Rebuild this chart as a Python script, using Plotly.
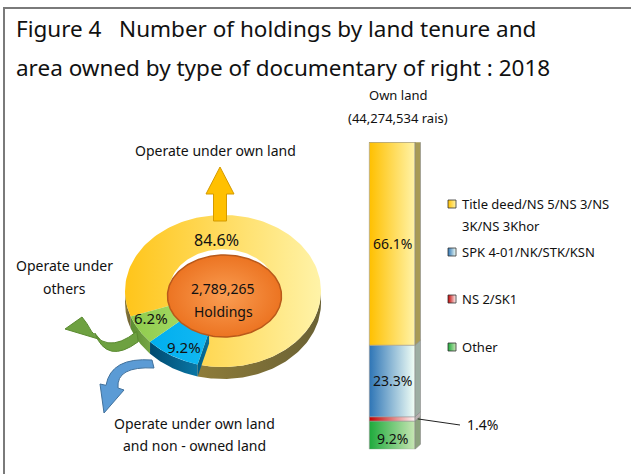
import numpy as np
import plotly.graph_objects as go

# ---------------- data ----------------
title_lines = ["Figure 4   Number of holdings by land tenure and",
               "area owned by type of documentary of right : 2018"]
tenure_labels = ["Operate under own land",
                 "Operate under own land<br>and non - owned land",
                 "Operate under<br>others"]
tenure_pct = [84.6, 9.2, 6.2]
holdings_total = "2,789,265"
holdings_unit = "Holdings"
doc_labels = ["Title deed/NS 5/NS 3/NS<br>3K/NS 3Khor", "SPK 4-01/NK/STK/KSN",
              "NS 2/SK1", "Other"]
doc_pct = [66.1, 23.3, 1.4, 9.2]
own_land_title = ["Own land", "(44,274,534 rais)"]

# ---------------- styling ----------------
W, H = 631, 474
FONT = "Noto Sans"
TXT = "#111111"

tenure_top = [("#FFC51A", "#FFF3A8"), ("#00AEEF", "#12B8F2"), ("#8FCB4C", "#A2D862")]
tenure_side = [("#8E7C3A", "#6A6134"), ("#004A70", "#0A76A4"), ("#5C8C32", "#76A646")]
doc_front = [("#FFC000", "#FFF3A8"), ("#2E75B6", "#F2FFF6"), ("#C00000", "#FFF5F5"), ("#1EAA3C", "#C8E6B4")]
doc_side = ["#A89B55", "#9DAEA3", "#B8B0B0", "#8CA37E"]

fig = go.Figure()


def poly(xs, ys, c0, c1=None, line="rgba(0,0,0,0)", lw=0, xa="x", ya="y", gtype="horizontal"):
    xs = list(xs) + [xs[0]]
    ys = list(ys) + [ys[0]]
    kw = dict(x=xs, y=ys, mode="lines", fill="toself",
              line=dict(color=line, width=lw), hoverinfo="skip",
              showlegend=False, xaxis=xa, yaxis=ya)
    if c1 is None:
        kw["fillcolor"] = c0
    else:
        kw["fillgradient"] = dict(type=gtype, colorscale=[[0, c0], [1, c1]])
    fig.add_trace(go.Scatter(**kw))


# ---------------- 3D donut (pixel axes) ----------------
CX, CY, RX, RY = 223, 291, 98, 76
K = 0.55
DEPTH = 12
START = 195.0
order = [1, 2, 0]   # clockwise: blue, green, yellow


def ept(theta, r=1.0, dy=0.0):
    t = np.radians(theta)
    return CX + r * RX * np.sin(t), CY - r * RY * np.cos(t) + dy


slices = {}
a = START
for i in order:
    b = a + tenure_pct[i] * 3.6
    slices[i] = (a, b)
    a = b

# outer walls (front half only)
for i in order:
    a, b = slices[i]
    for k in (0, 1):
        lo, hi = max(a, 90 + 360 * k), min(b, 270 + 360 * k)
        if hi > lo:
            th = np.linspace(lo, hi, 80)
            pts = [ept(t) for t in th] + [ept(t, dy=DEPTH) for t in th[::-1]]
            poly([p[0] for p in pts], [p[1] for p in pts], *tenure_side[i])


def top_face(i):
    a, b = slices[i]
    th = np.linspace(a, b, 160)
    pts = [ept(t, 1.0) for t in th] + [ept(t, K) for t in th[::-1]]
    poly([p[0] for p in pts], [p[1] for p in pts], *tenure_top[i])


top_face(0)
# cut face of the blue slice
a_b = slices[1][0]
pts = [ept(a_b, K), ept(a_b, 1.0), ept(a_b, 1.0, DEPTH), ept(a_b, K, DEPTH)]
poly([p[0] for p in pts], [p[1] for p in pts], "#005E88", "#0A6F9C")
top_face(1)
top_face(2)

# centre disc
OCX, OCY, ORX, ORY = 224.5, 296, 57, 41
th = np.linspace(0, 360, 200)
poly(OCX + ORX * np.sin(np.radians(th)), OCY - ORY * np.cos(np.radians(th)),
     "#FA9D52", "#EC7422", line="#B9591A", lw=1.5, gtype="radial")

# ---------------- 3D stacked bar (own axes in %) ----------------
BAR_TOP_PX, BAR_BOT_PX = 142.3, 449.3
BX0, BX1 = 369.3, 415.0
SDX = 5.5
pp = 100.0 / (BAR_BOT_PX - BAR_TOP_PX)
SDY = 5.0 * pp

stack = [3, 2, 1, 0]   # bottom to top
cum = 0.0
seg = {}
for i in stack:
    lo, hi = cum, cum + doc_pct[i]
    seg[i] = (lo, hi)
    cum = hi
    poly([BX0, BX1, BX1, BX0], [lo, lo, hi, hi], *doc_front[i],
         line="#9a9a9a", lw=0.6, xa="x2", ya="y2")
    poly([BX1, BX1 + SDX, BX1 + SDX, BX1], [lo, lo + SDY, hi + SDY, hi], doc_side[i],
         line="#8a8a8a", lw=0.6, xa="x2", ya="y2")
top = cum
poly([BX0, BX1, BX1 + SDX, BX0 + SDX], [top, top, top + SDY, top + SDY],
     "#C99E2E", "#B7A66A", line="#8a7a40", lw=0.6, xa="x2", ya="y2")

# leader for the small segment
red_mid = (seg[2][0] + seg[2][1]) / 2
fig.add_trace(go.Scatter(x=[BX1 + SDX / 2, 460], y=[red_mid, (BAR_BOT_PX - 425) * pp],
                         mode="lines", line=dict(color="#222", width=1),
                         hoverinfo="skip", showlegend=False, xaxis="x2", yaxis="y2"))

annotations = []


def txt(x, y, s, size=13, xanchor="center", xref="x", yref="y", color=TXT):
    annotations.append(dict(x=x, y=y, text=s, xref=xref, yref=yref, showarrow=False,
                            xanchor=xanchor, yanchor="middle", borderpad=0,
                            font=dict(family=FONT, size=size, color=color)))


for i in (0, 1, 3):
    lo, hi = seg[i]
    txt(392, (lo + hi) / 2 - (1.0 if i == 3 else 0), f"{doc_pct[i]}%", 14, xref="x2", yref="y2")
txt(482, 424, f"{doc_pct[2]}%", 14)

# legend
LEG_Y = [204, 252, 299, 347]
for i, yc in enumerate(LEG_Y):
    poly([448, 456, 456, 448], [yc - 4, yc - 4, yc + 4, yc + 4], *doc_front[i],
         line="#333333", lw=0.8)
    for j, line_s in enumerate(doc_labels[i].split("<br>")):
        txt(461, yc + 22 * j, line_s, 13, xanchor="left")

txt(398, 95, own_land_title[0], 13)
txt(398, 118, own_land_title[1], 13)

# donut labels
txt(216, 240, f"{tenure_pct[0]}%", 16)
txt(184, 347, f"{tenure_pct[1]}%", 15)
txt(151, 318, f"{tenure_pct[2]}%", 15)
txt(223, 288, holdings_total, 14)
txt(223, 311, holdings_unit, 14)

txt(215, 150, tenure_labels[0], 14)
for j, s in enumerate(tenure_labels[2].split("<br>")):
    txt(64, 265 + 23 * j, s, 14)
for j, s in enumerate(tenure_labels[1].split("<br>")):
    txt(194, 423 + 22 * j, s, 14)

# title
txt(15, 28, title_lines[0], 22.5, xanchor="left")
txt(15, 67, title_lines[1], 22.5, xanchor="left")

# ---------------- decorative arrows and frame ----------------
shapes = [
    dict(type="rect", xref="x", yref="y", x0=4, y0=8, x1=660, y1=500,
         line=dict(color="#7a7a7a", width=2), fillcolor="rgba(0,0,0,0)", layer="below"),
    dict(type="path", xref="x", yref="y",
         path="M 213.5,221 L 213.5,194 L 206,194 L 220,167 L 234,194 L 226.5,194 L 226.5,221 Z",
         fillcolor="#FFC000", line=dict(color="#D49A00", width=1)),
    dict(type="path", xref="x", yref="y",
         path="M 65,329 L 82,317 L 87,323.7 Q 104,358 136.7,331.5 L 138.3,341.7 "
              "Q 107,365 94.7,333 L 100,339.5 Z",
         fillcolor="#6EA141", line=dict(color="#5A8A30", width=1)),
    dict(type="path", xref="x", yref="y",
         path="M 104,413 L 100,384 L 106,385.3 Q 111,357 152,360 L 154,368 "
              "Q 116,366 118,388 L 124,390 Z",
         fillcolor="#5B9BD5", line=dict(color="#41719C", width=1)),
]

fig.update_layout(
    width=W, height=H, margin=dict(l=0, r=0, t=0, b=0),
    paper_bgcolor="white", plot_bgcolor="rgba(0,0,0,0)",
    xaxis=dict(range=[0, W], visible=False, domain=[0, 1]),
    yaxis=dict(range=[H, 0], visible=False, domain=[0, 1]),
    xaxis2=dict(range=[0, W], visible=False, domain=[0, 1], anchor="y2"),
    yaxis2=dict(range=[0, 100], visible=False, anchor="x2",
                domain=[(H - BAR_BOT_PX) / H, (H - BAR_TOP_PX) / H]),
    annotations=annotations, shapes=shapes, showlegend=False,
)

fig.write_html("out.html", config={"displayModeBar": False},
               post_script="document.body.style.margin='0';document.body.style.overflow='hidden';")
